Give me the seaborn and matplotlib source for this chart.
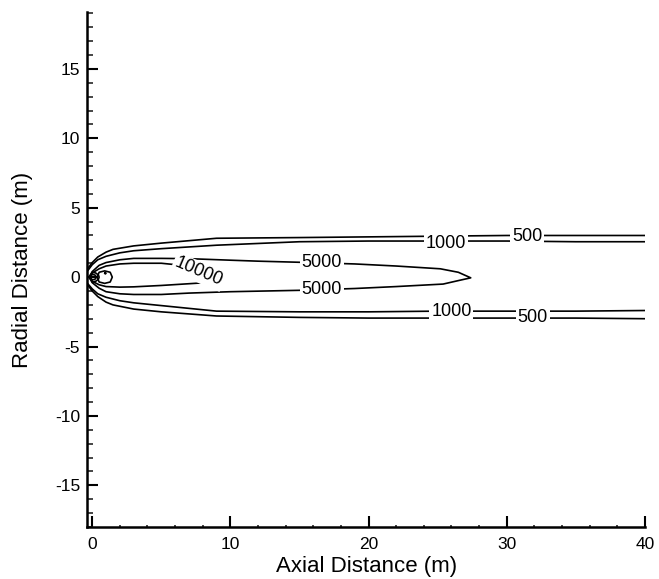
import numpy as np
import pandas as pd
import matplotlib
matplotlib.use("Agg")
import matplotlib.pyplot as plt
from matplotlib.ticker import MultipleLocator
import seaborn as sns

# ---- contour traces (axial x, radial y) ------------------------------------
# 500 ppm iso-line (open to the right)
x_500 = [-0.6, -0.3, 0.0, 0.4, 1.0, 1.5, 3.0, 5.0, 9.0, 15.0, 20.0, 25.0, 30.0, 35.0, 40.5]
y_500_upper = [0.3, 0.65, 1.05, 1.45, 1.8, 2.0, 2.25, 2.45, 2.8, 2.85, 2.9, 2.95, 3.0, 3.0, 3.0]
y_500_lower = [-0.3, -0.6, -1.0, -1.4, -1.8, -2.0, -2.3, -2.5, -2.8, -2.9, -2.95, -2.95, -2.95, -2.95, -3.0]

# 1000 ppm iso-line (open to the right)
x_1000 = [-0.6, -0.3, 0.0, 0.4, 1.0, 2.0, 3.0, 5.0, 9.0, 15.0, 20.0, 25.0, 30.0, 35.0, 40.5]
y_1000_upper = [0.2, 0.5, 0.9, 1.25, 1.5, 1.75, 1.9, 2.05, 2.3, 2.55, 2.6, 2.6, 2.6, 2.55, 2.55]
y_1000_lower = [-0.2, -0.5, -0.85, -1.2, -1.45, -1.7, -1.85, -2.05, -2.45, -2.5, -2.5, -2.45, -2.45, -2.45, -2.4]

# 5000 ppm iso-line (closed tongue)
x_5000_upper = [-0.2, 0.0, 0.5, 1.0, 2.0, 3.0, 5.0, 7.0, 10.0, 12.0, 15.0, 19.0, 22.0, 25.2, 26.5, 27.4]
y_5000_upper = [0.0, 0.4, 0.85, 1.05, 1.25, 1.35, 1.35, 1.33, 1.22, 1.15, 1.07, 0.95, 0.8, 0.6, 0.35, -0.05]
x_5000_lower = [27.4, 26.5, 25.4, 22.0, 19.0, 15.0, 10.0, 7.0, 5.0, 3.0, 2.0, 1.0, 0.5, 0.0, -0.2]
y_5000_lower = [-0.05, -0.25, -0.5, -0.68, -0.82, -0.95, -1.05, -1.15, -1.25, -1.25, -1.2, -1.05, -0.8, -0.4, 0.0]

# 10000 ppm iso-line (closed tongue)
x_10000_upper = [-0.1, 0.0, 0.5, 1.0, 2.0, 3.0, 5.0, 6.0, 7.0, 8.0, 8.8, 9.3]
y_10000_upper = [0.0, 0.3, 0.6, 0.8, 0.95, 1.0, 1.0, 0.9, 0.6, 0.25, -0.05, -0.3]
x_10000_lower = [9.3, 8.2, 5.0, 3.0, 2.0, 1.0, 0.5, 0.0, -0.1]
y_10000_lower = [-0.3, -0.4, -0.6, -0.7, -0.72, -0.68, -0.55, -0.3, 0.0]

# small high-concentration loops at the source
x_core = [0.35, 0.5, 0.9, 1.3, 1.45, 1.3, 0.9, 0.5, 0.35]
y_core = [0.0, 0.35, 0.45, 0.35, 0.0, -0.35, -0.45, -0.35, 0.0]
x_src_a = [-0.25, 0.0, 0.25, 0.45, 0.5, 0.45, 0.25, 0.0, -0.25]
y_src_a = [0.0, 0.35, 0.3, 0.15, 0.0, -0.15, -0.3, -0.35, 0.0]
x_src_b = [-0.2, 0.0, 0.2, 0.3, 0.2, 0.0, -0.2]
y_src_b = [0.0, 0.2, 0.15, 0.0, -0.15, -0.2, 0.0]
x_dot = [0.9, 0.95, 1.0, 0.95, 0.9]
y_dot = [0.28, 0.33, 0.28, 0.23, 0.28]

# contour labels: text, axial position, radial position, angle
label_text = ["10000", "5000", "5000", "1000", "500", "1000", "500"]
label_x = [7.7, 16.6, 16.6, 25.6, 31.5, 26.0, 31.9]
label_y = [0.38, 1.02, -0.9, 2.45, 2.95, -2.45, -2.9]
label_rot = [-23, 0, 0, 0, 0, 0, 0]

x_ticks = [0, 10, 20, 30, 40]
y_ticks = [-15, -10, -5, 0, 5, 10, 15]

# ---- assemble long-form table ----------------------------------------------
curves = {
    "500": (x_500[::-1] + x_500, y_500_upper[::-1] + y_500_lower),
    "1000": (x_1000[::-1] + x_1000, y_1000_upper[::-1] + y_1000_lower),
    "5000": (x_5000_upper + x_5000_lower, y_5000_upper + y_5000_lower),
    "10000": (x_10000_upper + x_10000_lower, y_10000_upper + y_10000_lower),
    "core": (x_core, y_core),
    "src_a": (x_src_a, y_src_a),
    "src_b": (x_src_b, y_src_b),
    "dot": (x_dot, y_dot),
}
frames = []
for name, (xs, ys) in curves.items():
    frames.append(pd.DataFrame({"x": xs, "y": ys, "curve": name,
                                "order": np.arange(len(xs))}))
df = pd.concat(frames, ignore_index=True)

# ---- figure ----------------------------------------------------------------
sns.set_theme(style="ticks")
plt.rcParams["font.family"] = ["Liberation Sans", "DejaVu Sans"]
plt.rcParams["axes.unicode_minus"] = False
plt.rcParams["text.color"] = "black"
plt.rcParams["axes.labelcolor"] = "black"

fig = plt.figure(figsize=(6.59, 5.79), dpi=100)
ax = fig.add_axes([0.1320, 0.0898, 0.8475, 0.8895])

sns.lineplot(data=df, x="x", y="y", units="curve", estimator=None, sort=False,
             color="black", linewidth=1.2, legend=False, ax=ax)

for t, lx, ly, r in zip(label_text, label_x, label_y, label_rot):
    ax.text(lx, ly, t, fontsize=13, ha="center", va="center", rotation=r,
            rotation_mode="anchor", zorder=5, color="black",
            bbox=dict(boxstyle="square,pad=0.1", fc="white", ec="none"))

ax.set_xlim(-0.38, 40.05)
ax.set_ylim(-18.0, 19.1)
ax.set_xticks(x_ticks)
ax.set_yticks(y_ticks)
ax.xaxis.set_minor_locator(MultipleLocator(2))
ax.yaxis.set_minor_locator(MultipleLocator(1))
ax.tick_params(which="major", direction="in", length=8, width=1.5,
               labelsize=12.5, colors="black", pad=5)
ax.tick_params(axis="x", which="major", pad=7)
ax.tick_params(axis="y", which="minor", direction="in", length=4.5, width=1.2)
ax.tick_params(axis="x", which="minor", direction="in", length=1.5, width=1.2)

for side in ["top", "right"]:
    ax.spines[side].set_visible(False)
for side in ["left", "bottom"]:
    ax.spines[side].set_linewidth(1.8)
    ax.spines[side].set_color("black")

ax.set_xlabel("Axial Distance (m)", fontsize=16, labelpad=3, color="black")
ax.set_ylabel("Radial Distance (m)", fontsize=16, labelpad=16, color="black")
ax.set_facecolor("white")
fig.patch.set_facecolor("white")

fig.savefig("out.png", dpi=100)
